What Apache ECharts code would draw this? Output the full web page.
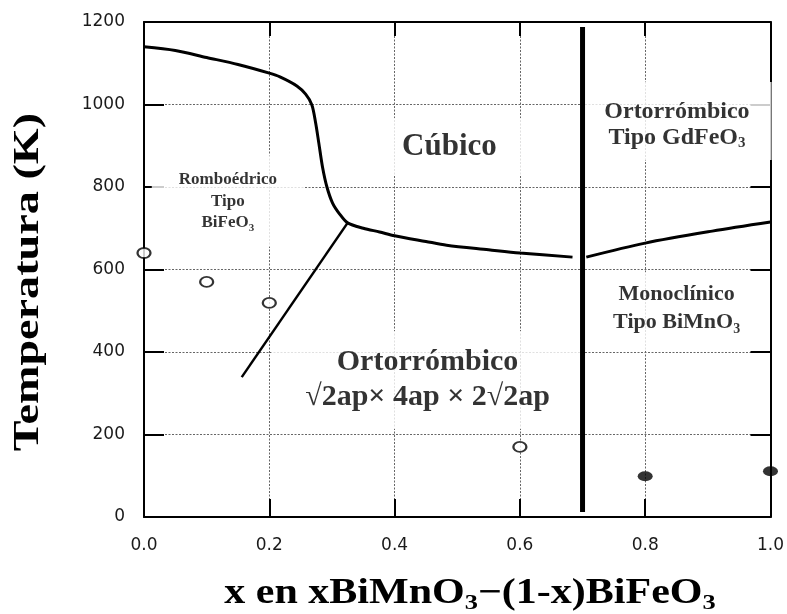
<!DOCTYPE html>
<html>
<head>
<meta charset="utf-8">
<script src="https://cdn.jsdelivr.net/npm/echarts@6/dist/echarts.min.js"></script>
<style>
  html, body { margin: 0; padding: 0; background: #fff; }
  #chart { width: 787px; height: 614px; }
</style>
</head>
<body>
<div id="chart"></div>
<script>
// Phase diagram of xBiMnO3-(1-x)BiFeO3: composition x vs temperature (K)

// Upper boundary of the cubic phase (continues down into the orthorhombic boundary)
const cubicX = [0.000, 0.050, 0.100, 0.150, 0.200, 0.217, 0.244, 0.258, 0.268, 0.274, 0.279, 0.285, 0.292, 0.301, 0.312, 0.325, 0.350, 0.376, 0.400, 0.450, 0.483, 0.550, 0.600, 0.684];
const cubicT = [1140, 1131, 1114, 1097, 1076, 1067, 1045, 1025, 999, 955, 907, 848, 800, 761, 735, 713, 700, 691, 682, 668, 659, 648, 640, 630];

// Rhombohedral / orthorhombic boundary
const rhomboX = [0.156, 0.325];
const rhomboT = [339, 713];

// Monoclinic / orthorhombic (GdFeO3 type) boundary
const monoX = [0.706, 0.800, 0.907, 1.000];
const monoT = [630, 664, 693, 715];

// Vertical phase boundary
const wallX = [0.7, 0.7];
const wallT = [1188, 12];

// Measured transition points
const openX = [0.0, 0.1, 0.2, 0.6];
const openT = [640, 570, 519, 170];
const filledX = [0.8, 1.0];
const filledT = [99, 111];

// Axis ticks
const xTicks = [0.0, 0.2, 0.4, 0.6, 0.8, 1.0];
const yTicks = [0, 200, 400, 600, 800, 1000, 1200];

// Region names
const regionNames = ['Romboédrico', 'Tipo', 'BiFeO', 'Cúbico', 'Ortorrómbico', 'Tipo GdFeO', 'Monoclínico', 'Tipo BiMnO', '√2ap× 4ap × 2√2ap'];

const zip = (xs, ys) => xs.map((x, i) => [x, ys[i]]);

const SERIF = '"Liberation Serif", "Times New Roman", serif';
const SANS = '"DejaVu Sans", "Liberation Sans", sans-serif';

function richStyles(F, f, L) {
  const h = L - 0.98 * F + 0.68 * f;
  return {
    t: { fontFamily: SERIF, fontWeight: 'bold', fontSize: F, lineHeight: L, color: '#000' },
    s: { fontFamily: SERIF, fontWeight: 'bold', fontSize: f, lineHeight: h, color: '#000', verticalAlign: 'bottom' }
  };
}

function regionLabel(value, text, F, f, L, padding) {
  return {
    value: value,
    label: {
      show: true,
      position: 'inside',
      align: 'center',
      verticalAlign: 'middle',
      formatter: text,
      backgroundColor: '#fff',
      padding: padding,
      rich: richStyles(F, f, L)
    }
  };
}

const chart = echarts.init(document.getElementById('chart'), null, { renderer: 'canvas' });

const axisLineStyle = { color: '#000', width: 2 };
const tickStyle = { color: '#000', width: 2 };
const gridLineStyle = { color: '#666', width: 1, type: [2, 1.5] };

const option = {
  animation: false,
  backgroundColor: '#fff',
  grid: { left: 144, right: 15, top: 22, bottom: 97, containLabel: false },
  xAxis: [
    {
      type: 'value', position: 'bottom',
      min: xTicks[0], max: xTicks[xTicks.length - 1], interval: 0.2,
      axisLine: { show: true, onZero: false, lineStyle: axisLineStyle },
      axisTick: { show: true, inside: true, length: 18, lineStyle: tickStyle },
      axisLabel: {
        show: true, margin: 20, fontSize: 17, fontFamily: SANS, color: '#1a1a1a',
        formatter: v => v.toFixed(1)
      },
      splitLine: { show: true, lineStyle: gridLineStyle }
    },
    {
      type: 'value', position: 'top',
      min: xTicks[0], max: xTicks[xTicks.length - 1], interval: 0.2,
      axisLine: { show: true, onZero: false, lineStyle: axisLineStyle },
      axisTick: { show: true, inside: true, length: 14, lineStyle: tickStyle },
      axisLabel: { show: false },
      splitLine: { show: false }
    }
  ],
  yAxis: [
    {
      type: 'value', position: 'left',
      min: yTicks[0], max: yTicks[yTicks.length - 1], interval: 200,
      axisLine: { show: true, onZero: false, lineStyle: axisLineStyle },
      axisTick: { show: true, inside: true, length: 20, lineStyle: tickStyle },
      axisLabel: {
        show: true, margin: 19, fontSize: 17, fontFamily: SANS, color: '#1a1a1a',
        formatter: v => String(v)
      },
      splitLine: { show: true, lineStyle: gridLineStyle }
    },
    {
      type: 'value', position: 'right',
      min: yTicks[0], max: yTicks[yTicks.length - 1], interval: 200,
      axisLine: { show: true, onZero: false, lineStyle: axisLineStyle },
      axisTick: { show: true, inside: true, length: 20, lineStyle: tickStyle },
      axisLabel: { show: false },
      splitLine: { show: false }
    }
  ],
  series: [
    {
      // region names on white boxes
      type: 'scatter', z: 2, silent: true,
      symbol: 'circle', symbolSize: 1,
      itemStyle: { color: 'rgba(0,0,0,0)' },
      data: [
        regionLabel([0.1339, 766], '{t|' + regionNames[0] + '}\n{t|' + regionNames[1] + '}\n{t|' + regionNames[2] + '}{s|3}', 17, 11, 21.5, [14, 27, 13, 27]),
        regionLabel([0.4876, 897], '{t|' + regionNames[3] + '}', 31, 18, 34, [12, 28, 12, 28]),
        regionLabel([0.8507, 960], '{t|' + regionNames[4] + '}\n{t|' + regionNames[5] + '}{s|3}', 24, 15, 26, [17, 22, 9, 22]),
        regionLabel([0.8502, 499], '{t|' + regionNames[6] + '}\n{t|' + regionNames[7] + '}{s|3}', 22, 14, 28, [8, 28, 14, 28]),
        regionLabel([0.4526, 332], '{t|' + regionNames[4] + '}\n{t|' + regionNames[8] + '}', 30, 18, 35, [14, 34, 14, 34])
      ]
    },
    {
      type: 'line', z: 4, silent: true, symbol: 'none', smooth: 0.3,
      lineStyle: { color: '#000', width: 3 },
      data: zip(cubicX, cubicT)
    },
    {
      type: 'line', z: 4, silent: true, symbol: 'none',
      lineStyle: { color: '#000', width: 2.5 },
      data: zip(rhomboX, rhomboT)
    },
    {
      type: 'line', z: 4, silent: true, symbol: 'none', smooth: 0.3,
      lineStyle: { color: '#000', width: 3 },
      data: zip(monoX, monoT)
    },
    {
      type: 'line', z: 4, silent: true, symbol: 'none',
      lineStyle: { color: '#000', width: 5 },
      data: zip(wallX, wallT)
    },
    {
      type: 'scatter', z: 5, silent: true, clip: false,
      symbol: 'emptyCircle', symbolSize: [13, 10],
      itemStyle: { color: '#000', borderWidth: 2 },
      data: zip(openX, openT)
    },
    {
      type: 'scatter', z: 5, silent: true, clip: false,
      symbol: 'circle', symbolSize: [15, 10],
      itemStyle: { color: '#000' },
      data: zip(filledX, filledT)
    }
  ],
  graphic: [
    {
      type: 'text', x: 29, y: 282, rotation: Math.PI / 2, scaleX: 1.32, silent: true,
      style: {
        text: 'Temperatura (K)', fill: '#000',
        font: 'bold 35px ' + SERIF,
        align: 'center', verticalAlign: 'middle'
      }
    },
    {
      type: 'text', x: 470, y: 594, scaleX: 1.2, silent: true,
      style: {
        text: '{t|x en xBiMnO}{s|3}{t|−(1-x)BiFeO}{s|3}',
        align: 'center', verticalAlign: 'middle',
        rich: richStyles(35, 22, 40)
      }
    }
  ]
};

chart.setOption(option);
</script>
</body>
</html>
